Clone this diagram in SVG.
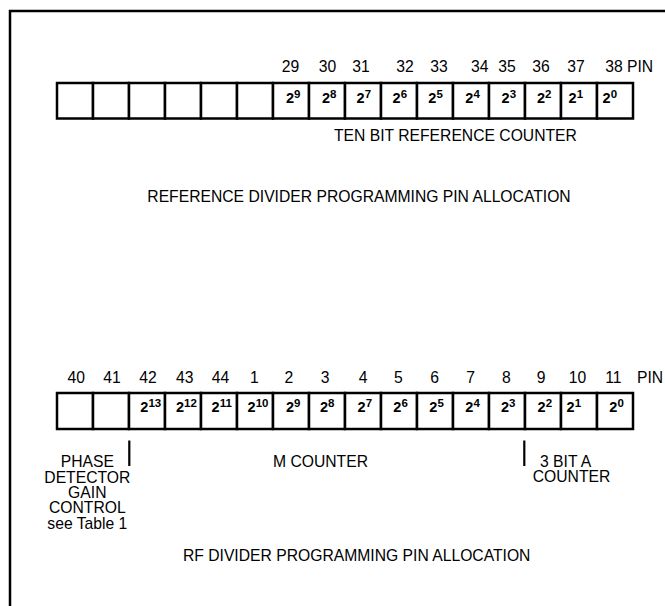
<svg xmlns="http://www.w3.org/2000/svg" width="665" height="606" viewBox="0 0 665 606">
<style>
text{font-family:"Liberation Sans",Arial,Helvetica,sans-serif;fill:#000}
.t{font-size:15.7px}
.m{font-size:15.7px;text-anchor:middle}
.b{font-size:14.5px;font-weight:bold}
.s{font-size:11.5px;font-weight:bold}
.cell{fill:#fff;stroke:#000;stroke-width:2.5}
.ln{stroke:#000;stroke-width:2.5;fill:none}
.tick{stroke:#000;stroke-width:2.2}
</style>
<rect width="665" height="606" fill="#fff"/>
<g id="frame"><path class="ln" d="M10,620 V11 H680"/></g>

<g id="ref-pins">
<text class="m" x="290.5" y="72.3">29</text>
<text class="m" x="327.5" y="72.3">30</text>
<text class="m" x="361" y="72.3">31</text>
<text class="m" x="405" y="72.3">32</text>
<text class="m" x="439" y="72.3">33</text>
<text class="m" x="479.7" y="72.3">34</text>
<text class="m" x="507" y="72.3">35</text>
<text class="m" x="541" y="72.3">36</text>
<text class="m" x="576" y="72.3">37</text>
<text class="m" x="614" y="72.3">38</text>
<text class="t" x="627" y="72.3">PIN</text>
</g>

<g id="ref-register">
<g id="ref-c1"><rect class="cell" x="57" y="83" width="36" height="35.5"/></g>
<g id="ref-c2"><rect class="cell" x="93" y="83" width="36" height="35.5"/></g>
<g id="ref-c3"><rect class="cell" x="129" y="83" width="36" height="35.5"/></g>
<g id="ref-c4"><rect class="cell" x="165" y="83" width="36" height="35.5"/></g>
<g id="ref-c5"><rect class="cell" x="201" y="83" width="36" height="35.5"/></g>
<g id="ref-c6"><rect class="cell" x="237" y="83" width="36" height="35.5"/></g>
<g id="ref-b9"><rect class="cell" x="273" y="83" width="36" height="35.5"/><text x="286" y="102.5"><tspan class="b">2</tspan><tspan class="s" dy="-5">9</tspan></text></g>
<g id="ref-b8"><rect class="cell" x="309" y="83" width="36" height="35.5"/><text x="322" y="102.5"><tspan class="b">2</tspan><tspan class="s" dy="-5">8</tspan></text></g>
<g id="ref-b7"><rect class="cell" x="345" y="83" width="36" height="35.5"/><text x="356.6" y="102.5"><tspan class="b">2</tspan><tspan class="s" dy="-5">7</tspan></text></g>
<g id="ref-b6"><rect class="cell" x="381" y="83" width="36" height="35.5"/><text x="392.6" y="102.5"><tspan class="b">2</tspan><tspan class="s" dy="-5">6</tspan></text></g>
<g id="ref-b5"><rect class="cell" x="417" y="83" width="36" height="35.5"/><text x="428.3" y="102.5"><tspan class="b">2</tspan><tspan class="s" dy="-5">5</tspan></text></g>
<g id="ref-b4"><rect class="cell" x="453" y="83" width="36" height="35.5"/><text x="465.3" y="102.5"><tspan class="b">2</tspan><tspan class="s" dy="-5">4</tspan></text></g>
<g id="ref-b3"><rect class="cell" x="489" y="83" width="36" height="35.5"/><text x="501.6" y="102.5"><tspan class="b">2</tspan><tspan class="s" dy="-5">3</tspan></text></g>
<g id="ref-b2"><rect class="cell" x="525" y="83" width="36" height="35.5"/><text x="537" y="102.5"><tspan class="b">2</tspan><tspan class="s" dy="-5">2</tspan></text></g>
<g id="ref-b1"><rect class="cell" x="561" y="83" width="36" height="35.5"/><text x="568.6" y="102.5"><tspan class="b">2</tspan><tspan class="s" dy="-5">1</tspan></text></g>
<g id="ref-b0"><rect class="cell" x="597" y="83" width="36" height="35.5"/><text x="602.6" y="102.5"><tspan class="b">2</tspan><tspan class="s" dy="-5">0</tspan></text></g>
</g>

<g id="ref-counter-label"><text class="t" x="334" y="141">TEN BIT REFERENCE COUNTER</text></g>
<g id="ref-title"><text class="m" x="359" y="202">REFERENCE DIVIDER PROGRAMMING PIN ALLOCATION</text></g>

<g id="rf-pins">
<text class="m" x="76.2" y="383">40</text>
<text class="m" x="112" y="383">41</text>
<text class="m" x="148" y="383">42</text>
<text class="m" x="184.7" y="383">43</text>
<text class="m" x="220.5" y="383">44</text>
<text class="m" x="254.3" y="383">1</text>
<text class="m" x="288.8" y="383">2</text>
<text class="m" x="325" y="383">3</text>
<text class="m" x="363" y="383">4</text>
<text class="m" x="398.3" y="383">5</text>
<text class="m" x="434.5" y="383">6</text>
<text class="m" x="470.5" y="383">7</text>
<text class="m" x="506.3" y="383">8</text>
<text class="m" x="541" y="383">9</text>
<text class="m" x="577.5" y="383">10</text>
<text class="m" x="613.3" y="383">11</text>
<text class="t" x="637" y="383">PIN</text>
</g>

<g id="rf-register">
<g id="rf-c1"><rect class="cell" x="57" y="393" width="36" height="36"/></g>
<g id="rf-c2"><rect class="cell" x="93" y="393" width="36" height="36"/></g>
<g id="rf-b13"><rect class="cell" x="129" y="393" width="36" height="36"/><text x="140.3" y="411.5"><tspan class="b">2</tspan><tspan class="s" dy="-5">13</tspan></text></g>
<g id="rf-b12"><rect class="cell" x="165" y="393" width="36" height="36"/><text x="176" y="411.5"><tspan class="b">2</tspan><tspan class="s" dy="-5">12</tspan></text></g>
<g id="rf-b11"><rect class="cell" x="201" y="393" width="36" height="36"/><text x="211.6" y="411.5"><tspan class="b">2</tspan><tspan class="s" dy="-5">11</tspan></text></g>
<g id="rf-b10"><rect class="cell" x="237" y="393" width="36" height="36"/><text x="247.6" y="411.5"><tspan class="b">2</tspan><tspan class="s" dy="-5">10</tspan></text></g>
<g id="rf-b9"><rect class="cell" x="273" y="393" width="36" height="36"/><text x="286" y="411.5"><tspan class="b">2</tspan><tspan class="s" dy="-5">9</tspan></text></g>
<g id="rf-b8"><rect class="cell" x="309" y="393" width="36" height="36"/><text x="320" y="411.5"><tspan class="b">2</tspan><tspan class="s" dy="-5">8</tspan></text></g>
<g id="rf-b7"><rect class="cell" x="345" y="393" width="36" height="36"/><text x="357.6" y="411.5"><tspan class="b">2</tspan><tspan class="s" dy="-5">7</tspan></text></g>
<g id="rf-b6"><rect class="cell" x="381" y="393" width="36" height="36"/><text x="393.3" y="411.5"><tspan class="b">2</tspan><tspan class="s" dy="-5">6</tspan></text></g>
<g id="rf-b5"><rect class="cell" x="417" y="393" width="36" height="36"/><text x="429.3" y="411.5"><tspan class="b">2</tspan><tspan class="s" dy="-5">5</tspan></text></g>
<g id="rf-b4"><rect class="cell" x="453" y="393" width="36" height="36"/><text x="465.3" y="411.5"><tspan class="b">2</tspan><tspan class="s" dy="-5">4</tspan></text></g>
<g id="rf-b3"><rect class="cell" x="489" y="393" width="36" height="36"/><text x="501" y="411.5"><tspan class="b">2</tspan><tspan class="s" dy="-5">3</tspan></text></g>
<g id="rf-b2"><rect class="cell" x="525" y="393" width="36" height="36"/><text x="537.6" y="411.5"><tspan class="b">2</tspan><tspan class="s" dy="-5">2</tspan></text></g>
<g id="rf-b1"><rect class="cell" x="561" y="393" width="36" height="36"/><text x="566.6" y="411.5"><tspan class="b">2</tspan><tspan class="s" dy="-5">1</tspan></text></g>
<g id="rf-b0"><rect class="cell" x="597" y="393" width="36" height="36"/><text x="609.3" y="411.5"><tspan class="b">2</tspan><tspan class="s" dy="-5">0</tspan></text></g>
</g>

<g id="connectors">
<line class="tick" x1="129.3" y1="440.5" x2="129.3" y2="466"/>
<line class="tick" x1="524.3" y1="440.5" x2="524.3" y2="466"/>
</g>

<g id="phase-label">
<text class="m" x="87.3" y="467.3">PHASE</text>
<text class="m" x="87.3" y="483.3">DETECTOR</text>
<text class="m" x="87.3" y="498.3">GAIN</text>
<text class="m" x="87.3" y="513.3">CONTROL</text>
<text class="m" x="87.3" y="529.3">see Table 1</text>
</g>
<g id="m-counter-label"><text class="m" x="320.5" y="466.7">M COUNTER</text></g>
<g id="a-counter-label">
<text class="t" x="540" y="466.7">3 BIT A</text>
<text class="t" x="532.7" y="481.7">COUNTER</text>
</g>
<g id="rf-title"><text class="m" x="356.7" y="560.7">RF DIVIDER PROGRAMMING PIN ALLOCATION</text></g>
</svg>
